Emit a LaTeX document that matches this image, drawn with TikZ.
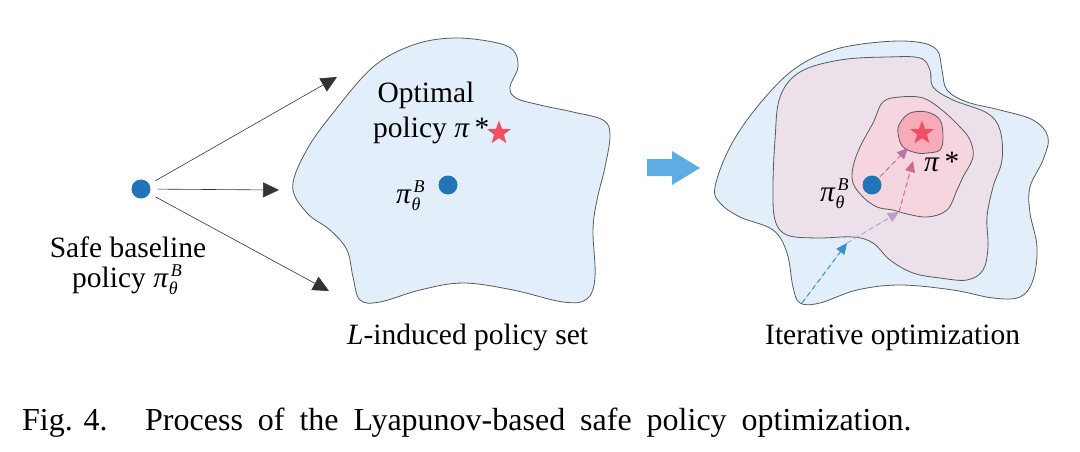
\documentclass[tikz,border=0pt]{standalone}
\usepackage{fontspec}
\setmainfont{Liberation Serif}
\usetikzlibrary{arrows.meta,shapes.geometric}
\definecolor{setblue}{RGB}{226,239,250}
\definecolor{lav}{RGB}{236,224,234}
\definecolor{pinkset}{RGB}{245,214,224}
\definecolor{redset}{RGB}{246,170,186}
\definecolor{starred}{RGB}{240,80,100}
\definecolor{dotblue}{RGB}{31,117,182}
\definecolor{bigarrow}{RGB}{93,173,226}
\definecolor{outline}{RGB}{90,90,90}
\definecolor{dblue}{RGB}{58,143,208}
\definecolor{dlav}{RGB}{185,160,200}
\definecolor{dpink}{RGB}{208,106,138}
\definecolor{dmauve}{RGB}{180,120,160}
\newcommand\scr[1]{{\fontsize{18}{18}\selectfont\itshape #1}}
\newcommand\piB{\textit{π}\rlap{\hspace{2pt}\raisebox{11pt}{\scr{B}}}\raisebox{-7pt}{\scr{θ}}}
\tikzset{
  blob/.style={draw=outline, line width=0.8pt},
  lbl/.style={inner sep=0pt, font=\fontsize{29.5}{32}\selectfont},
  captxt/.style={inner sep=0pt, font=\fontsize{32}{36}\selectfont},
  pdot/.style={circle, fill=dotblue, inner sep=0pt, minimum size=19pt},
  pstar/.style={star, star points=5, star point ratio=2.4, fill=starred, inner sep=0pt, minimum size=25pt},
  blk/.style={draw=black!80, line width=0.6pt, -{Triangle[length=16pt,width=15pt]}},
  dsh/.style={dashed, dash pattern=on 5pt off 3.5pt, line width=1pt, -{Triangle[length=11pt,width=10pt]}},
}
\begin{document}
\begin{tikzpicture}[x=1pt,y=-1pt]
\useasboundingbox (0,0) rectangle (1080,451);
% ---------- left part ----------
\node[pdot] (dotA) at (141,189) {};
\coordinate (tA1) at (337,77);
\coordinate (tA2) at (279,190);
\coordinate (tA3) at (329,291);
\draw[blk, shorten <=7pt] (dotA) -- (tA1);
\draw[blk, shorten <=7pt] (dotA) -- (tA2);
\draw[blk, shorten <=7pt] (dotA) -- (tA3);
\node[lbl, anchor=base] (safe) at (128,257) {Safe baseline};
\node[lbl, anchor=base west] (safe2) at (72,287) {policy \piB};
% ---------- blob 1 ----------
\draw[blob, fill=setblue] plot[smooth cycle, tension=0.6] coordinates {
 (292.7,186.7) (306.7,150) (333,113) (373,67) (413,45) (453,38) (493,42) (513,50)
 (518,67) (510,87) (516,98) (540,105) (573,112) (603,120) (610,135) (605,167)
 (597,200) (593,230) (595,277) (587,299) (563,302) (513,290) (463,283) (420,290)
 (380,302) (360,300) (353,277) (347,250) (330,230) (307,213)};
\node[lbl, anchor=base] (opt) at (426,102) {Optimal};
\node[lbl, anchor=base west] (opt2) at (373,137) {policy \textit{π}\,*};
\node[pstar] (starA) at (499,133) {};
\node[pdot] (dotB) at (448,185) {};
\node[lbl, anchor=base west] (piA) at (396,203) {\piB};
\node[lbl, anchor=base west] (lind) at (347,344) {\textit{L}-induced policy set};
% ---------- big arrow ----------
\fill[bigarrow] (647,159) -- (672,159) -- (672,151) -- (700,168) -- (672,185) -- (672,176) -- (647,176) -- cycle;
% ---------- blob 2 ----------
\draw[blob, fill=setblue] plot[smooth cycle, tension=0.6] coordinates {
 (715,187) (730,147) (757,107) (793,70) (833,50) (880,42) (917,42) (937,50)
 (942,70) (947,90) (967,102) (1000,110) (1033,120) (1048,137) (1043,160) (1030,187)
 (1030,213) (1037,247) (1033,280) (1020,297) (993,298) (953,290) (900,285) (857,290)
 (820,303) (800,303) (793,287) (787,253) (773,230) (740,217) (720,203)};
\draw[blob, fill=lav] plot[smooth cycle, tension=0.6] coordinates {
 (775,140) (780,97) (800,72) (840,60) (887,57) (920,58) (930,70) (933,87)
 (953,100) (987,113) (1000,130) (1002,160) (993,187) (987,217) (988,247) (983,270)
 (967,280) (940,278) (913,273) (890,260) (873,243) (853,237) (817,238) (787,235)
 (775,220) (773,187)};
\draw[blob, fill=pinkset] plot[smooth cycle, tension=0.6] coordinates {
 (853,167) (860,147) (873,123) (883,102) (900,97) (923,98) (942,110) (960,127)
 (970,140) (973,157) (963,177) (957,190) (947,210) (927,217) (903,213) (893,210)
 (877,207) (863,197) (853,183)};
\draw[blob, fill=redset] plot[smooth cycle, tension=0.6] coordinates {
 (900,123) (910,113) (927,112) (940,120) (943,137) (940,150) (927,153) (917,153)
 (903,147) (898,133)};
\node[pstar] (starB) at (922,133) {};
\node[pdot] (dotC) at (872,185) {};
\node[lbl, anchor=base west] (piB2) at (820,201) {\piB};
\node[lbl, anchor=base west] (pistar) at (924,171) {\textit{π}\,*};
\coordinate (c0) at (802,303);
\coordinate (c1) at (847,243);
\coordinate (c2) at (899,212);
\coordinate (c3) at (913,161);
\coordinate (c4) at (908,148);
\draw[dsh, draw=dblue, fill=dblue] (c0) -- (c1);
\draw[dsh, draw=dlav, fill=dlav] (c1) -- (c2);
\draw[dsh, draw=dpink, fill=dpink] (c2) -- (c3);
\draw[dsh, draw=dmauve, fill=dmauve, shorten <=2pt] (dotC) -- (c4);
\node[lbl, anchor=base west] (iter) at (765,344) {Iterative optimization};
% ---------- caption ----------
\node[captxt, anchor=base west] (fig) at (22,430) {Fig. 4.};
\node[captxt, anchor=base west] (capt) at (145,430) {\spaceskip=15pt Process of the Lyapunov-based safe policy optimization.};
\end{tikzpicture}
\end{document}
